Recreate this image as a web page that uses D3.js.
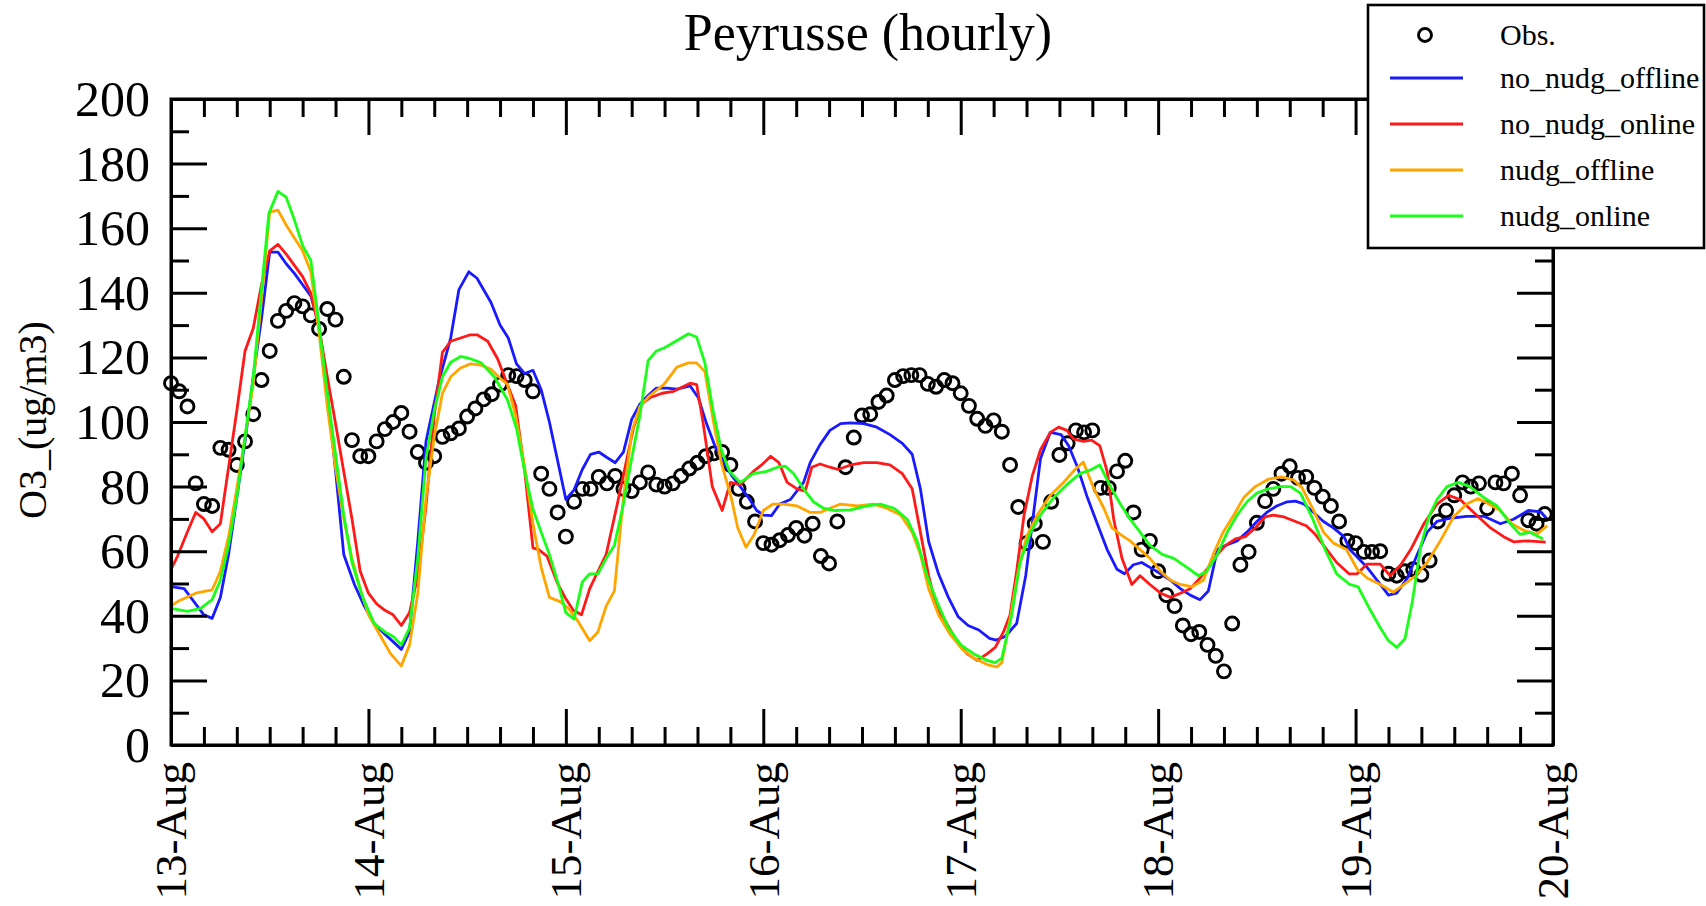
<!DOCTYPE html>
<html>
<head>
<meta charset="utf-8">
<script src="https://cdn.jsdelivr.net/npm/d3@7"></script>
<style>
  body { margin: 0; background: #fff; }
  text { font-family: "Liberation Serif", "Times New Roman", serif; fill: #000; }
</style>
</head>
<body>
<div id="chart"></div>
<script>
// hours since 13-Aug 00:00, O3 in ug/m3
var obs = [[0,112],[1,109.5],[2,104.8],[3,81],[4,74.6],[5,74],[6,92],[7,91.4],[8,86.7],[9,94],[10,102.4],[11,113],[12,122],[13,131.3],[14,134.4],[15,136.8],[16,135.8],[17,133],[18,128.8],[19,135],[20,131.7],[21,114],[22,94.4],[23,89.4],[24,89.4],[25,94],[26,97.8],[27,100],[28,102.8],[29,97],[30,90.7],[31,87.4],[32,89.4],[33,95.4],[34,96.5],[35,98],[36,101.7],[37,104.2],[38,107],[39,108.6],[40,111.6],[41,114.5],[42,114.2],[43,113],[44,109.5],[45,84],[46,79.3],[47,72],[48,64.5],[49,75.3],[50,79.3],[51,79.3],[52,83],[53,81],[54,83.3],[55,79.3],[56,78.6],[57,81.3],[58,84.4],[59,80.6],[60,80],[61,81],[62,83.3],[63,85.6],[64,87.4],[65,89.4],[66,90.3],[67,90.7],[68,86.7],[69,79.3],[70,75.3],[71,69.2],[72,62.5],[73,62],[74,63.4],[75,65],[76,67.2],[77,64.8],[78,68.5],[79,58.5],[80,56.2],[81,69.2],[82,86],[83,95.2],[84,102],[85,102.4],[86,106.2],[87,108.2],[88,113],[89,114.2],[90,114.5],[91,114.5],[92,111.8],[93,110.9],[94,113],[95,112],[96,108.9],[97,105],[98,101],[99,98.8],[100,100.5],[101,97],[102,86.7],[103,73.7],[104,62.5],[105,68.5],[106,62.9],[107,75.3],[108,89.8],[109,93.4],[110,97.4],[111,96.8],[112,97.4],[113,79.6],[114,79.6],[115,84.7],[116,88],[117,72],[118,60.5],[119,63.2],[120,53.8],[121,46.4],[122,43],[123,37],[124,34.3],[125,35],[126,31],[127,27.6],[128,22.8],[129,37.6],[130,55.8],[131,59.8],[132,68.8],[133,75.5],[134,79.3],[135,84],[136,86.3],[137,82.7],[138,83],[139,79.6],[140,76.9],[141,74],[142,69.2],[143,63.2],[144,62.5],[145,59.8],[146,59.8],[147,60],[148,53],[149,52.4],[150,53.8],[151,54.4],[152,52.7],[153,57.1],[154,69.2],[155,72.6],[156,77.3],[157,81.3],[158,80],[159,81],[160,73.3],[161,81.3],[162,81],[163,84],[164,77.3],[165,69.6],[166,68.5],[167,71.5]];

var noNudgOffline = [[0,49],[1.6,48.4],[4,40.3],[5,39.2],[6,45.7],[7,59],[8,76.6],[9,94],[10,114],[11,132],[12,152.6],[13,152.6],[14,149],[15,146],[16,142.5],[17,139],[18,130],[19,109],[20,85],[21,59],[22.3,49.7],[23.5,43],[24.7,37.6],[26,34.3],[27,32],[28,29.6],[29,35],[30,63],[31,94],[32.6,113],[34,126],[35,141],[36.2,146.5],[37.2,144.5],[38.9,137],[40,130],[41,126],[42,118],[43,115],[44,116],[45,110],[46,100],[47,88],[48,76],[49,79],[50,85.3],[51,90],[52,90.7],[53,89],[54,87.4],[55,90.7],[56,100.8],[57,105.5],[58,108.2],[59,110.5],[60.3,110.5],[61.5,110.2],[63.1,111.2],[64.1,107.5],[65.1,99.5],[66.1,92.7],[67.2,87.4],[68.2,83.3],[69.2,80],[70.2,76.6],[71.2,72.6],[72,71.2],[73,71],[74,74.6],[75.3,76],[76.9,81.3],[77.7,87.4],[78.9,93],[80.1,97.4],[81.4,99.5],[82.6,99.7],[84.2,99.5],[85.8,98.4],[87.4,96.1],[88.9,93.4],[90.1,90],[91.1,79.3],[92.1,63],[93.3,53],[94.5,45.7],[95.7,39.7],[96.9,37],[98.2,35.6],[99.5,33],[100.3,32.5],[101.4,33.6],[102.8,37.6],[103.9,52.4],[104.9,72.6],[105.7,88.7],[106.9,96.8],[108.2,96.1],[109.1,92.7],[110.2,86],[111.4,76.6],[112.6,68.5],[113.8,60.5],[115,54.4],[115.9,53],[117,55.8],[118,56.5],[119,55],[120.3,53],[121.5,51],[122.7,48.4],[123.9,46.4],[125.1,45],[126.1,47.7],[127.2,60.5],[128.4,62],[129.6,63.2],[130.8,65.9],[132,69.2],[133.2,72],[134.4,74],[135.7,75.3],[136.7,75.5],[137.7,74.6],[138.9,72],[140.1,69.2],[141.3,67.2],[142.6,64.5],[143.3,60.5],[145.4,55],[147,49.7],[148,46.4],[149,47],[150.3,51.7],[151.5,59],[152.7,65.9],[153.9,69.2],[155.5,70.2],[157.5,70.8],[159.6,70.8],[161.6,68.5],[163.2,69.9],[165,72.6],[166.5,72.2],[167.3,69.9]];

var noNudgOnline = [[0,54.4],[0.8,58.5],[2,66],[3,72],[4,70],[5,66],[6,68.5],[7,86],[8,103.5],[9,122],[10,129],[11,142.5],[12,153],[13,155],[14,152],[15,148.5],[16,145],[17,139.8],[18,129],[19,114],[20,99.5],[21,84.7],[22,70],[23,53.8],[24,47],[25,43.7],[26,41.7],[27,40.3],[28,37],[29,41],[30,52.4],[31,74],[32,102],[33,121.6],[34,125],[35.2,126],[36.4,127],[37.2,127],[38.5,125],[39.7,119.6],[40.9,111.6],[41.9,105],[43,84.7],[44,61],[44.7,60.5],[45.7,58.5],[47,50],[47.9,45.7],[48.9,41.7],[49.9,40.3],[50.9,48.4],[51.9,53.8],[52.9,59],[54.2,74],[55.2,86],[56.2,98],[57.2,105.5],[58.2,107.5],[59.7,108.9],[61.1,109.5],[62.3,111],[63.1,112],[63.9,111.6],[64.7,99.5],[65.8,80],[67,72.6],[68,81.3],[69.2,80.6],[70.8,84.7],[71.8,86.7],[72.9,89.4],[73.9,87.4],[74.9,81.3],[76.1,79.3],[77.1,78.6],[77.9,86],[78.9,87],[80.1,86],[81.1,85.3],[82.6,86.7],[84.2,87.4],[85.8,87.4],[87.4,86.7],[88.9,84],[90.1,79.3],[91.1,65.9],[92.1,52.4],[93.1,42.3],[94.3,37.6],[95.5,32.3],[96.8,28.2],[98,26.2],[99.2,28.2],[100.2,30.2],[101.2,35],[102,40.3],[102.8,53.8],[103.7,71.2],[104.7,83.3],[105.7,91.4],[106.9,96.8],[107.9,98.4],[108.9,97.4],[109.7,94.8],[110.9,94],[111.9,94.4],[112.9,92.7],[113.8,84.7],[114.6,69.9],[115.6,57.8],[116.8,49.7],[117.8,52.4],[119,49.7],[120.3,47],[121.5,45.7],[122.7,47],[123.9,48.4],[125.1,51.7],[126.1,55],[127.2,59],[128.2,61.8],[129.4,63.8],[130.6,64.5],[131.8,67.2],[133,70.6],[134,71.2],[135.3,70.6],[136.7,69.2],[138,67.9],[139,65.5],[140.5,60.5],[141.7,56.5],[143.2,53],[144.2,53],[145.4,56],[147,56],[148.2,52.4],[149.5,55.8],[150.7,60.5],[152.3,68.5],[153.9,74.6],[155.3,77.3],[156.7,76],[158.4,71.9],[160.4,67.2],[162,64.5],[163.2,62.9],[164.9,63.2],[167.1,62.8]];

var nudgOffline = [[0,43],[0.8,44.4],[3,47],[5,48],[6,53.8],[7,64.5],[8,79.3],[9,95.4],[10,111.6],[11,138],[12,165],[13,165.6],[14,161],[15,157],[16,153],[17,146.5],[18,127.7],[19,104.8],[20,86],[21,70],[22,57.8],[23,48.4],[24,40.3],[25.5,33.6],[26.7,28.2],[28,24.5],[29,31],[30,47],[31,76.6],[32,95.4],[33,108.9],[34,114],[35.2,116.7],[36.4,118],[37.7,117.6],[38.9,116.3],[40,113.6],[40.9,111.6],[41.9,102],[43,86],[44,68.5],[45,55],[46,45.7],[47.3,44.4],[48.3,42.3],[49.3,39],[50.9,32.3],[51.9,35],[52.9,43],[53.9,47.7],[55,76.6],[56,96.8],[57,104.8],[58.2,108.2],[59.9,111.6],[61.5,117],[62.9,118.3],[63.9,118.3],[64.9,115.6],[65.9,100.8],[66.9,87.4],[68.1,76.6],[68.9,67.2],[69.9,61.2],[70.9,65.2],[72,72.6],[73.2,74.6],[74.5,74.6],[76.1,74],[77.7,72],[78.9,72],[80.1,73.3],[81.4,74.6],[83.4,74],[85.4,74.6],[87,73.3],[88.7,71.2],[90.1,65.9],[91.1,59],[92.1,48.4],[93.3,40.3],[94.7,34.3],[96.2,29.6],[97.6,26.9],[99.2,24.9],[100.4,24.2],[101,25.5],[102,39],[103,53.8],[104,64.5],[105.3,71.2],[106.9,77.3],[108.5,81.3],[109.9,85.3],[110.9,87.6],[112.2,79.3],[113.4,73.3],[114.4,67.2],[115.4,65.2],[116.6,63.2],[117.8,60.5],[119,57.8],[120.3,53.8],[121.5,51],[122.7,49.7],[124.1,49],[125.5,51],[126.7,59],[127.9,65.9],[129.2,71.2],[130.4,76.6],[131.8,80],[133.4,82.3],[135,83],[136.5,82],[137.5,79.6],[138.9,72.6],[140.1,65.9],[141.3,62.5],[142.9,60.5],[144.2,54.4],[145.4,51.7],[147,49.7],[148.6,47.3],[149.9,49.7],[151.3,52.4],[152.7,56.5],[154.3,63.2],[155.9,70.6],[157.5,74.6],[158.9,76.3],[160.2,74.6],[161.6,72.6],[163,68.5],[164.4,66.5],[166,65.2],[167.3,67.9]];

var nudgOnline = [[0,42.3],[2,41.4],[3.6,42.3],[5,45],[6,51],[7,61.8],[8,76.6],[9,95.4],[10,114],[11,141],[11.9,164.6],[13,171.4],[14,169.6],[15,162.6],[16,154.6],[17,150],[18,130],[19,109],[20,90],[21,71.2],[22,56.5],[23.3,45.7],[24.7,37.6],[26,35],[27,33.6],[28,31],[29,36.3],[30,57.8],[31,88.7],[32,103.5],[33,114],[34,118.5],[35.2,120.3],[36.4,119.6],[37.7,118.3],[39.3,114],[40.9,106.9],[42,98],[43,84.7],[44,73],[45,65.9],[46,59],[47,50.5],[48,41],[49,39],[50,50.5],[50.9,53],[51.9,53],[52.9,57.8],[53.9,61.8],[55,74.6],[56,88.7],[57,102],[58,119],[59,122],[60,123],[61.1,124.6],[62.9,127.3],[63.9,126.3],[64.9,118.3],[65.9,103.5],[66.9,91.4],[67.9,84.7],[69.2,81.3],[70.8,84],[72.4,84.7],[73.7,86],[74.7,86.3],[75.7,84],[76.9,79.3],[78.1,75.3],[79.3,73.3],[80.7,72.6],[82.6,72.8],[84.6,74],[86.2,74.6],[87.9,73.3],[89.5,69.9],[90.7,63.2],[91.9,52.4],[93.1,44.4],[94.5,36.3],[96,31],[97.6,28.2],[99.2,26.2],[100.2,25.5],[101,26.9],[102.2,40.3],[103.2,56.5],[104.5,65.9],[105.7,71.2],[107.3,76.6],[108.9,80.6],[110.5,84],[111.9,85.3],[112.9,86.7],[114.2,80],[115.4,74.6],[116.6,69.9],[117.8,65.9],[119,61.8],[120.5,59],[121.9,57.8],[123.5,55],[124.9,52.4],[125.9,53.8],[127.2,59],[128.4,65.9],[129.6,71.2],[130.8,75.3],[132,78],[133.4,79.3],[134.9,80],[136.1,80],[137.3,78],[138.7,70.5],[140.3,60.5],[141.7,53],[143.3,49.7],[144.3,49],[145.8,41.7],[147,36.3],[148,32.3],[149,30.2],[150,32.9],[150.9,44.4],[151.9,61.2],[152.9,70.6],[153.9,76],[155.1,80],[156.5,81.3],[157.9,80],[159.6,76.6],[161.2,74],[162.8,68.5],[164,65.2],[165.2,65.9],[166.8,63.8]];

var dayLabels = ["13-Aug","14-Aug","15-Aug","16-Aug","17-Aug","18-Aug","19-Aug","20-Aug"];
var yTicks = [0,20,40,60,80,100,120,140,160,180,200];

var seriesNames = ["no_nudg_offline","no_nudg_online","nudg_offline","nudg_online"];
var seriesColors = ["#1a1aff","#ff1a1a","#ffa500","#1aff1a"];
var seriesData = [noNudgOffline, noNudgOnline, nudgOffline, nudgOnline];

var W = 1706, H = 906;
var pLeft = 171, pRight = 1553, pTop = 99, pBottom = 745;

var svg = d3.select("#chart").append("svg").attr("width", W).attr("height", H);

var x = d3.scaleLinear().domain([0, 168]).range([pLeft, pRight]);
var y = d3.scaleLinear().domain([0, 200]).range([pBottom, pTop]);

// title
svg.append("text").attr("x", 868).attr("y", 50)
  .attr("text-anchor", "middle").style("font-size", "52px")
  .text("Peyrusse (hourly)");

// y axis label
svg.append("text")
  .attr("transform", "translate(46,420) rotate(-90)")
  .attr("text-anchor", "middle").style("font-size", "40px")
  .text("O3_(ug/m3)");

// obs circles
svg.append("g").selectAll("circle").data(obs).enter().append("circle")
  .attr("cx", function(d) { return x(d[0]); })
  .attr("cy", function(d) { return y(d[1]); })
  .attr("r", 6.5)
  .style("fill", "none").style("stroke", "#000").style("stroke-width", 2.9);

var line = d3.line().x(function(d) { return x(d[0]); }).y(function(d) { return y(d[1]); });

seriesData.forEach(function(s, i) {
  svg.append("path").datum(s).attr("d", line)
    .style("fill", "none").style("stroke", seriesColors[i]).style("stroke-width", 2.8)
    .style("stroke-linejoin", "round");
});

// axes: major + minor ticks pointing inward
var majorX = d3.range(0, 169, 24), minorX = d3.range(0, 169, 4).filter(function(h) { return h % 24; });
var majorY = yTicks, minorY = d3.range(10, 200, 20);

function styleAxis(g) {
  g.selectAll("path, line").style("stroke", "#000").style("stroke-width", 3);
  g.selectAll("text").remove();
}

svg.append("g").attr("transform", "translate(0," + pBottom + ")")
  .call(d3.axisBottom(x).tickValues(majorX).tickSize(-36).tickSizeOuter(0)).call(styleAxis);
svg.append("g").attr("transform", "translate(0," + pBottom + ")")
  .call(d3.axisBottom(x).tickValues(minorX).tickSize(-18).tickSizeOuter(0)).call(styleAxis);
svg.append("g").attr("transform", "translate(0," + pTop + ")")
  .call(d3.axisTop(x).tickValues(majorX).tickSize(-36).tickSizeOuter(0)).call(styleAxis);
svg.append("g").attr("transform", "translate(0," + pTop + ")")
  .call(d3.axisTop(x).tickValues(minorX).tickSize(-18).tickSizeOuter(0)).call(styleAxis);
svg.append("g").attr("transform", "translate(" + pLeft + ",0)")
  .call(d3.axisLeft(y).tickValues(majorY).tickSize(-36).tickSizeOuter(0)).call(styleAxis);
svg.append("g").attr("transform", "translate(" + pLeft + ",0)")
  .call(d3.axisLeft(y).tickValues(minorY).tickSize(-18).tickSizeOuter(0)).call(styleAxis);
svg.append("g").attr("transform", "translate(" + pRight + ",0)")
  .call(d3.axisRight(y).tickValues(majorY).tickSize(-36).tickSizeOuter(0)).call(styleAxis);
svg.append("g").attr("transform", "translate(" + pRight + ",0)")
  .call(d3.axisRight(y).tickValues(minorY).tickSize(-18).tickSizeOuter(0)).call(styleAxis);

svg.append("rect").attr("x", pLeft).attr("y", pTop).attr("width", pRight - pLeft).attr("height", pBottom - pTop)
  .style("fill", "none").style("stroke", "#000").style("stroke-width", 3);

// tick labels
svg.append("g").selectAll("text").data(yTicks).enter().append("text")
  .attr("x", 150).attr("y", function(d) { return y(d); }).attr("dy", "0.34em")
  .attr("text-anchor", "end").style("font-size", "50px")
  .text(function(d) { return d; });

svg.append("g").selectAll("text").data(dayLabels).enter().append("text")
  .attr("transform", function(d, i) { return "translate(" + x(i * 24) + ",762) rotate(-90)"; })
  .attr("dy", "0.34em").attr("text-anchor", "end").style("font-size", "45px")
  .text(function(d) { return d; });

// legend
var lg = svg.append("g");
lg.append("rect").attr("x", 1368).attr("y", 5).attr("width", 336).attr("height", 243)
  .style("fill", "#fff").style("stroke", "#000").style("stroke-width", 2.6);
var rowY = [35, 78, 124, 170, 216];
lg.append("circle").attr("cx", 1425).attr("cy", rowY[0]).attr("r", 6.5)
  .style("fill", "none").style("stroke", "#000").style("stroke-width", 2.9);
lg.append("text").attr("x", 1500).attr("y", rowY[0]).attr("dy", "0.34em").style("font-size", "30px").text("Obs.");
seriesNames.forEach(function(n, i) {
  lg.append("line").attr("x1", 1390).attr("x2", 1463).attr("y1", rowY[i + 1]).attr("y2", rowY[i + 1])
    .style("stroke", seriesColors[i]).style("stroke-width", 2.8);
  lg.append("text").attr("x", 1500).attr("y", rowY[i + 1]).attr("dy", "0.34em").style("font-size", "30px").text(n);
});
</script>
</body>
</html>
